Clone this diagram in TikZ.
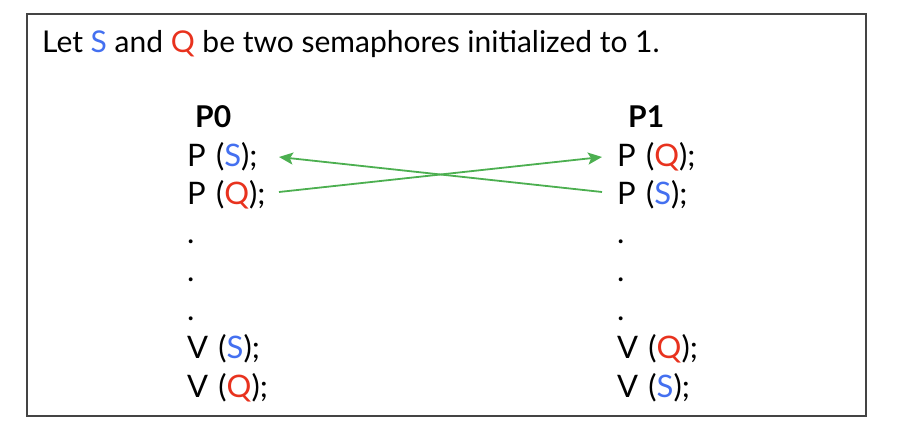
\documentclass[tikz,border=0pt]{standalone}
\usepackage{fontspec}
\setmainfont{Lato}
\usetikzlibrary{arrows.meta}
\definecolor{sblue}{HTML}{4470F0}
\definecolor{qred}{HTML}{E8321E}
\definecolor{agreen}{HTML}{4CAF50}
\definecolor{frame}{HTML}{444444}
\newcommand{\Sv}{\textcolor{sblue}{S}}
\newcommand{\Qv}{\textcolor{qred}{Q}}
\newcommand{\gapsp}{\hspace{0.33em}}
\begin{document}
\begin{tikzpicture}[x=1pt,y=-1pt,
  txt/.style={anchor=base west,inner sep=0pt,font=\fontsize{31}{36}\selectfont,text height=22pt,text depth=7pt},
  ttl/.style={anchor=base west,inner sep=0pt,font=\fontsize{30}{36}\selectfont},
  hdr/.style={txt,font=\bfseries\fontsize{30}{36}\selectfont},
  arr/.style={draw=agreen,line width=1.8pt,-{Stealth[length=14pt,width=12pt,inset=3pt]}}]
\useasboundingbox (0,0) rectangle (898,430);
\draw[frame,line width=1.6pt] (27,14) rectangle (866,416);
\node[ttl] (title) at (42,53) {Let \Sv{} and \Qv{} be two semaphores initialized to 1.};
% P0 column
\node[hdr] (p0) at (195,128) {P0};
\node[txt] (a1) at (187,166.5) {P\gapsp(\Sv);};
\node[txt] (a2) at (187,205) {P\gapsp(\Qv);};
\node[txt] (a3) at (187,243.5) {.};
\node[txt] (a4) at (187,282) {.};
\node[txt] (a5) at (187,320.5) {.};
\node[txt] (a6) at (187,359) {V\gapsp(\Sv);};
\node[txt] (a7) at (187,397.5) {V\gapsp(\Qv);};
% P1 column
\node[hdr] (p1) at (628,128) {P1};
\node[txt] (b1) at (617,166.5) {P\gapsp(\Qv);};
\node[txt] (b2) at (617,205) {P\gapsp(\Sv);};
\node[txt] (b3) at (617,243.5) {.};
\node[txt] (b4) at (617,282) {.};
\node[txt] (b5) at (617,320.5) {.};
\node[txt] (b6) at (617,359) {V\gapsp(\Qv);};
\node[txt] (b7) at (617,397.5) {V\gapsp(\Sv);};
% arrows
\draw[arr] ([xshift=92pt,yshift=5.5pt]a2.west) -- ([xshift=-15pt,yshift=2pt]b1.west);
\draw[arr] ([xshift=-15pt,yshift=5.5pt]b2.west) -- ([xshift=92pt,yshift=2pt]a1.west);
\end{tikzpicture}
\end{document}
